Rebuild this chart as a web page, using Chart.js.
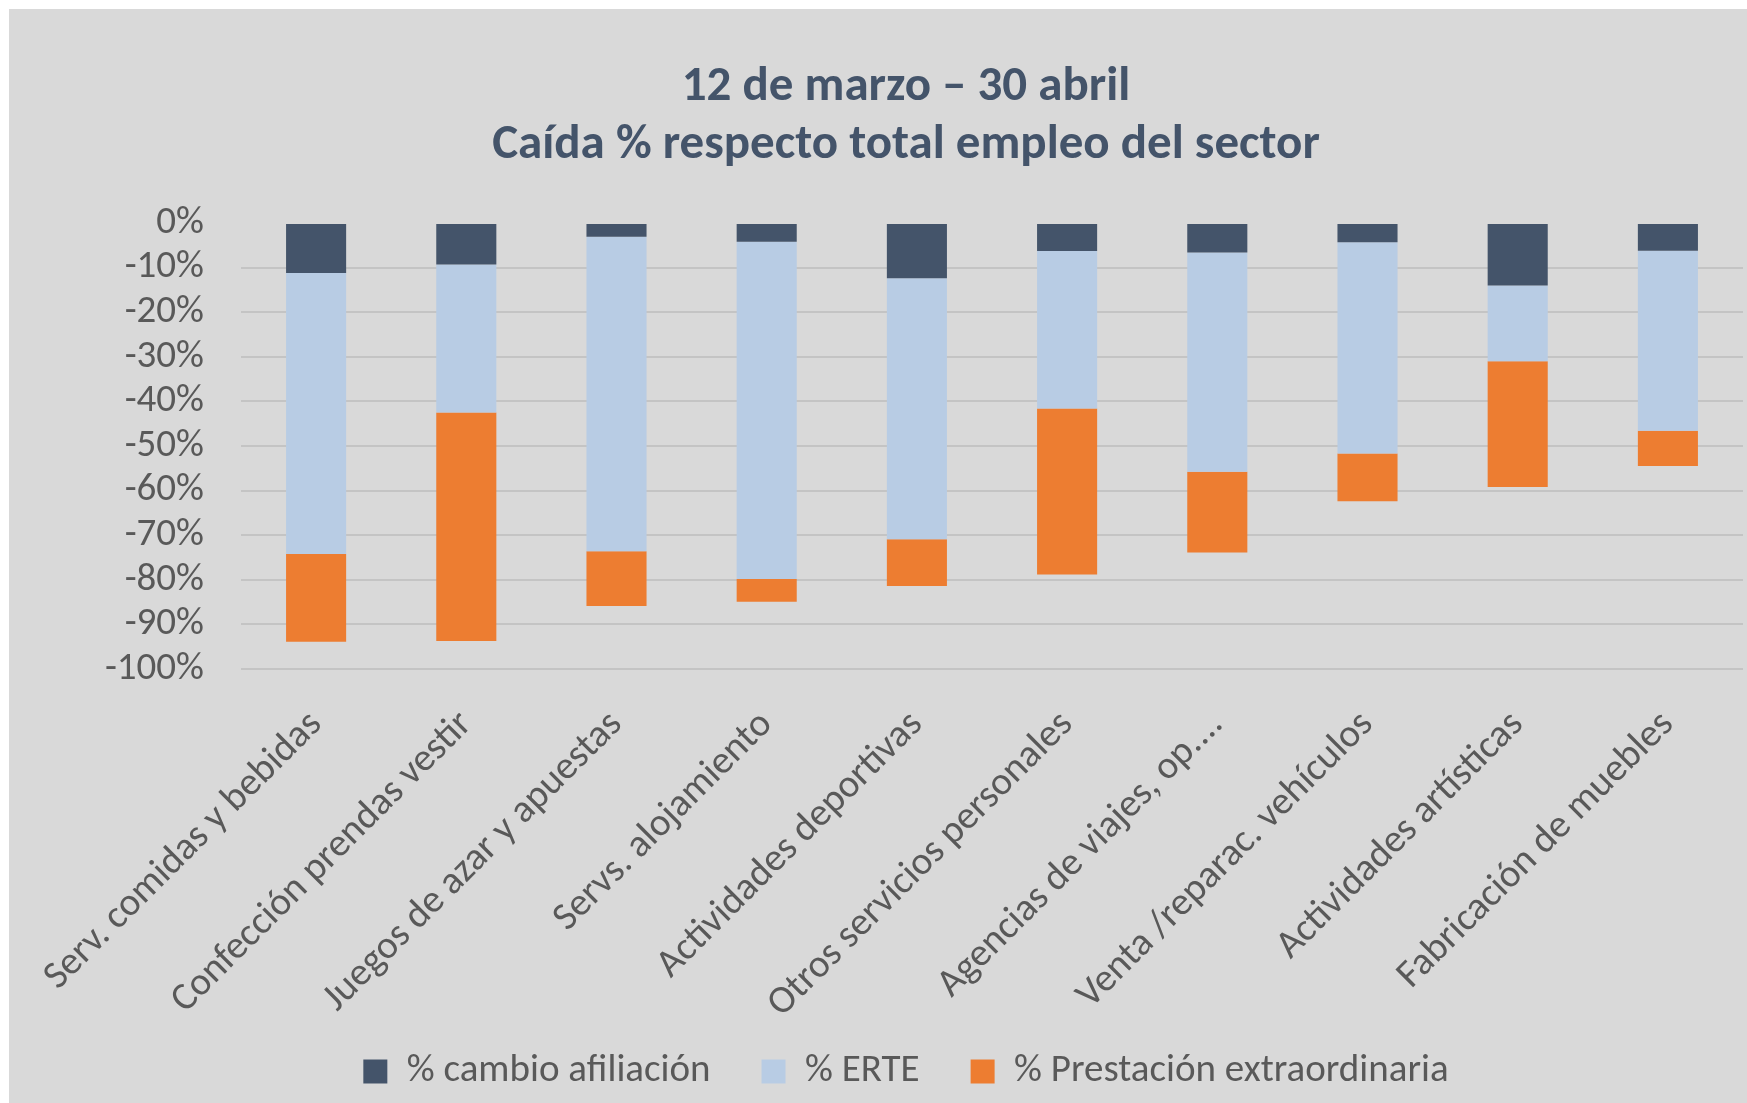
<!DOCTYPE html>
<html>
<head>
<meta charset="utf-8">
<script src="https://cdn.jsdelivr.net/npm/chart.js@4.4.1/dist/chart.umd.min.js"></script>
<style>
  html, body { margin: 0; padding: 0; background: #ffffff; overflow: hidden; }
  #marco { position: absolute; left: 9px; top: 9px; width: 1798px; height: 1094px; background: #d9d9d9; }
  #grafico { display: block; }
</style>
</head>
<body>
<div id="marco"><canvas id="grafico" width="1798" height="1094"></canvas></div>
<script>
// Datos (caída % respecto total empleo del sector)
const sectores = [
    "Serv. comidas y bebidas",
    "Confección prendas vestir",
    "Juegos de azar y apuestas",
    "Servs. alojamiento",
    "Actividades deportivas",
    "Otros servicios personales",
    "Agencias de viajes, op....",
    "Venta /reparac. vehículos",
    "Actividades artísticas",
    "Fabricación de muebles"
];
const cambioAfiliacion = [-11.2, -9.3, -3.1, -4.2, -12.4, -6.3, -6.6, -4.3, -14.0, -6.2];
const erte = [-63.0, -33.2, -70.5, -75.6, -58.5, -35.3, -49.2, -47.4, -17.0, -40.4];
const prestacionExtra = [-19.7, -51.2, -12.3, -5.1, -10.5, -37.2, -18.1, -10.7, -28.2, -7.9];
const tituloLineas = ["12 de marzo \u2013 30 abril", "Caída % respecto total empleo del sector"];

const fuente = "Carlito, Calibri, Lato, sans-serif";
const gris = "#595959";
const tamLetra = 39;

const grafico = new Chart(document.getElementById("grafico"), {
    type: "bar",
    data: {
        labels: sectores,
        datasets: [
            { label: "% cambio afiliación", data: cambioAfiliacion, backgroundColor: "#44546a" },
            { label: "% ERTE", data: erte, backgroundColor: "#b8cce4" },
            { label: "% Prestación extraordinaria", data: prestacionExtra, backgroundColor: "#ed7d31" }
        ]
    },
    options: {
        responsive: false,
        animation: false,
        devicePixelRatio: 1,
        layout: { padding: { left: 0, right: 4, top: 0, bottom: 2 } },
        datasets: { bar: { categoryPercentage: 1, barPercentage: 0.4 } },
        plugins: {
            tooltip: { enabled: false },
            title: {
                display: true,
                text: tituloLineas,
                color: "#44546a",
                font: { family: fuente, size: 49, weight: "bold", lineHeight: 58 / 49 },
                padding: { top: 50, bottom: 48 }
            },
            legend: {
                position: "bottom",
                labels: {
                    color: gris,
                    font: { family: fuente, size: tamLetra },
                    boxWidth: 24,
                    boxHeight: 24,
                    padding: 51
                }
            }
        },
        scales: {
            x: {
                stacked: true,
                grid: { display: false },
                border: { display: false },
                ticks: {
                    color: gris,
                    font: { family: fuente, size: tamLetra },
                    minRotation: 45,
                    maxRotation: 45,
                    autoSkip: false,
                    padding: 25
                },
                afterFit: (escala) => {
                    escala.height = 332;
                    // las etiquetas largas bajan por debajo de la caja del eje: sin recorte
                    escala._computeLabelArea = () => undefined;
                }
            },
            y: {
                stacked: true,
                min: -100,
                max: 0,
                border: { display: false },
                grid: {
                    drawTicks: false,
                    lineWidth: 2,
                    color: (ctx) => ctx.tick && ctx.tick.value === 0 ? "rgba(0,0,0,0)" : "#c4c4c4"
                },
                ticks: {
                    stepSize: 10,
                    autoSkip: false,
                    color: gris,
                    font: { family: fuente, size: tamLetra },
                    padding: 37,
                    callback: (valor) => valor + "%"
                },
                afterFit: (escala) => { escala.width = 232; }
            },
            // el gráfico original sigue más allá del borde derecho: eje vacío como margen
            margenDerecho: {
                type: "linear",
                position: "right",
                display: true,
                grid: { display: false },
                border: { display: false },
                ticks: { display: false },
                afterFit: (escala) => { escala.width = 60; }
            }
        }
    }
});
</script>
</body>
</html>
